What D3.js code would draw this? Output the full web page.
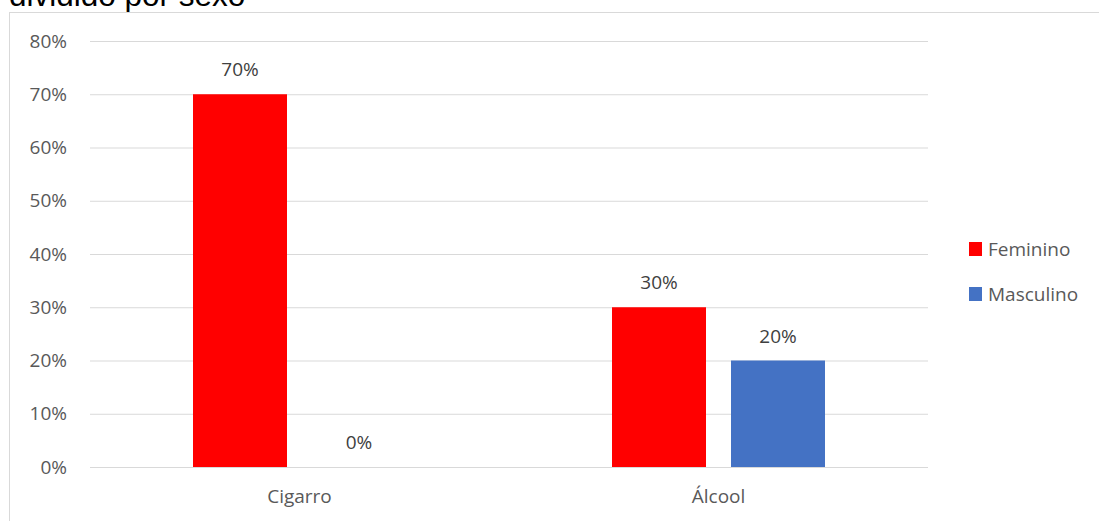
<!DOCTYPE html>
<html><head><meta charset="utf-8">
<script src="https://cdn.jsdelivr.net/npm/d3@7"></script>
<style>body{margin:0;background:#fff;}svg{display:block;}</style>
</head><body>
<script>
const categories = ["Cigarro", "Álcool"];
const seriesNames = ["Feminino", "Masculino"];
const feminino = [0.70, 0.30];
const masculino = [0.00, 0.20];
const yTicks = [0, 0.1, 0.2, 0.3, 0.4, 0.5, 0.6, 0.7, 0.8];
const colors = ["#FF0000", "#4472C4"];
const titleText = "dividido por sexo";

(function(){
const W = 1099, H = 521;
const svg = d3.select("body").append("svg").attr("width", W).attr("height", H);
const font = "'Open Sans', Lato, sans-serif";
const fs = 19;

svg.append("text").attr("x", 9).attr("y", 6).attr("font-family", "'Liberation Sans', Arial, sans-serif")
  .attr("font-size", 31.5).attr("fill", "#000").text(titleText);

svg.append("rect").attr("x", 9.5).attr("y", 12.5).attr("width", 1100).attr("height", 520)
  .attr("fill", "none").attr("stroke", "#d9d9d9");

const pL = 90, pR = 928, pT = 41, pB = 467;
const y = d3.scaleLinear().domain([0, 0.8]).range([pB, pT]);
const x0 = d3.scaleBand().domain(categories).range([pL, pR]).paddingInner(0).paddingOuter(0);
const x1 = d3.scaleBand().domain(seriesNames).range([0, 213]).paddingInner(25/119);

const g = svg.append("g");
const yAxis = d3.axisLeft(y).tickValues(yTicks).tickFormat(d3.format(".0%")).tickSize(-(pR-pL));
const ya = g.append("g").attr("transform", `translate(${pL},0)`).call(yAxis);
ya.select(".domain").remove();
ya.selectAll(".tick line").attr("stroke", "#d9d9d9").attr("stroke-width", 1);
ya.selectAll(".tick text").attr("x", -23).attr("font-family", font).attr("font-size", fs).attr("fill", "#595959");

const xAxis = d3.axisBottom(x0).tickSize(0);
const xa = g.append("g").attr("transform", `translate(0,${pB})`).call(xAxis);
xa.select(".domain").remove();
xa.selectAll(".tick text").attr("dy", 0).attr("y", 36).attr("font-family", font).attr("font-size", fs).attr("fill", "#595959");

const data = categories.map((c, i) => ({cat: c, vals: [feminino[i], masculino[i]]}));
const groups = g.selectAll(".grp").data(data).enter().append("g")
  .attr("transform", d => `translate(${x0(d.cat) + (x0.bandwidth() - 213)/2},0)`);
groups.selectAll("rect").data(d => d.vals.map((v, j) => ({s: seriesNames[j], v, j})))
  .enter().append("rect")
  .attr("x", d => x1(d.s)).attr("width", x1.bandwidth())
  .attr("y", d => y(d.v)).attr("height", d => y(0) - y(d.v))
  .attr("fill", d => colors[d.j]);
groups.selectAll("text.lbl").data(d => d.vals.map((v, j) => ({s: seriesNames[j], v, j})))
  .enter().append("text")
  .attr("x", d => x1(d.s) + x1.bandwidth()/2).attr("y", d => y(d.v) - 18)
  .attr("text-anchor", "middle").attr("font-family", font).attr("font-size", fs).attr("fill", "#404040")
  .text(d => d3.format(".0%")(d.v));

const leg = svg.append("g").attr("transform", "translate(969,249)");
seriesNames.forEach((s, i) => {
  const row = leg.append("g").attr("transform", `translate(0,${i*45})`);
  row.append("rect").attr("x", 0).attr("y", -7).attr("width", 13).attr("height", 14).attr("fill", colors[i]);
  row.append("text").attr("x", 19).attr("y", 7).attr("font-family", font).attr("font-size", fs).attr("fill", "#595959").text(s);
});
})();
</script>
</body></html>
